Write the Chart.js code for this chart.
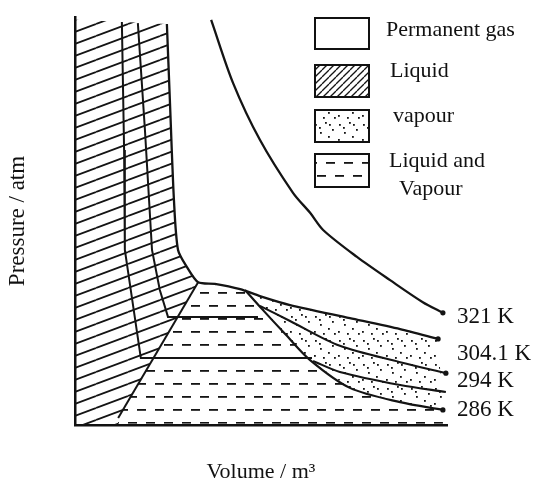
<!DOCTYPE html>
<html>
<head>
<meta charset="utf-8">
<script src="https://cdn.jsdelivr.net/npm/chart.js@4.4.1/dist/chart.umd.min.js"></script>
<style>
  html, body { margin: 0; padding: 0; background: #fff; }
</style>
</head>
<body>
<canvas id="isoChart" width="536" height="485"></canvas>
<script>
// CO2 isotherms, [volume, pressure] in arbitrary units
var iso321 = [[3.66, 99.3], [4.25, 83.8], [4.97, 69.9], [5.86, 56.9], [6.32, 52.0], [6.67, 47.8], [7.58, 41.2], [8.47, 35.5], [9.35, 30.1], [9.89, 27.5]];
var iso304 = [[2.47, 98.3], [2.55, 79.7], [2.66, 55.1], [2.77, 42.9], [3.01, 38.7], [3.31, 35.0], [3.76, 34.6], [4.44, 33.3], [4.97, 31.6], [5.78, 29.4], [7.39, 26.2], [8.74, 23.5], [9.76, 21.1]];
var critIdx = 5; // critical point inside iso304
var iso294Liq = [[1.69, 98.5], [1.88, 72.3], [2.07, 42.9], [2.28, 33.1], [2.50, 26.5], [4.92, 26.5]];
var iso294Vap = [[4.97, 29.2], [5.78, 25.5], [7.12, 19.4], [8.74, 15.4], [9.97, 12.7]];
var iso286Liq = [[1.26, 98.8], [1.32, 67.4], [1.34, 42.9], [1.77, 16.4], [6.37, 16.4]];
var iso286Vap = [[6.40, 15.7], [7.12, 13.0], [8.74, 9.8], [9.97, 8.1]];
var domeLeft = [[1.16, 1.7], [3.31, 35.0]];
var domeRight = [[4.57, 33.1], [5.03, 28.4], [5.65, 22.3], [6.32, 15.9], [7.39, 9.1], [8.74, 5.6], [9.89, 3.7]];

var isoLabels = ['321 K', '304.1 K', '294 K', '286 K'];
var legendNames = ['Permanent gas', 'Liquid', 'vapour', 'Liquid and', 'Vapour'];

function pts(arr) {
    return arr.map(function (p) { return { x: p[0], y: p[1] }; });
}

// regions of the phase diagram, built from the curves above
var liquidRegion = [[0, 99.3]].concat(iso304.slice(0, critIdx + 1), [domeLeft[0], [domeLeft[0][0], 0], [0, 0]]);
var vapourRegion = iso304.slice(critIdx).concat(domeRight.slice().reverse());
var domeRegion = [domeLeft[0], domeLeft[1], iso304[critIdx + 1], iso304[critIdx + 2]]
    .concat(domeRight, [[domeRight[domeRight.length - 1][0], 0.3], [domeLeft[0][0], 0.3]]);

function makePattern(w, h, draw) {
    var c = document.createElement('canvas');
    c.width = w;
    c.height = h;
    var g = c.getContext('2d');
    draw(g, w, h);
    return g.createPattern(c, 'repeat');
}

var ink = '#141414';

var hatch = makePattern(32, 12, function (g, w, h) {
    g.strokeStyle = ink;
    g.lineWidth = 1.8;
    for (var k = -1; k <= 1; k++) {
        g.beginPath();
        g.moveTo(0, h + k * h);
        g.lineTo(w, k * h);
        g.stroke();
    }
});

var hatchSmall = makePattern(7, 7, function (g, w, h) {
    g.strokeStyle = ink;
    g.lineWidth = 1.3;
    for (var k = -1; k <= 1; k++) {
        g.beginPath();
        g.moveTo(k * w, h);
        g.lineTo(w + k * w, 0);
        g.stroke();
    }
});

var dots = makePattern(24, 24, function (g) {
    g.fillStyle = ink;
    [[3, 4], [13, 2], [20, 9], [8, 12], [16, 16], [2, 19], [11, 21], [22, 21], [7, 7], [17, 4]].forEach(function (d) {
        g.fillRect(d[0], d[1], 1.8, 1.8);
    });
});

var dashes = makePattern(36, 26, function (g) {
    g.fillStyle = ink;
    g.fillRect(2, 6, 9, 1.8);
    g.fillRect(20, 6, 9, 1.8);
    g.fillRect(11, 19, 9, 1.8);
    g.fillRect(29, 19, 7, 1.8);
    g.fillRect(0, 19, 2, 1.8);
});

function region(data, pattern) {
    return {
        data: pts(data), fill: 'shape', backgroundColor: pattern,
        borderWidth: 0, pointRadius: 0, tension: 0, order: 2
    };
}

function curve(data, width, tension, endDot) {
    var n = data.length;
    return {
        data: pts(data), fill: false, borderColor: ink, borderWidth: width, tension: tension,
        pointRadius: data.map(function (p, i) { return endDot && i === n - 1 ? 2.6 : 0; }),
        pointBackgroundColor: ink, pointBorderWidth: 0, order: 1, clip: false
    };
}

var labelPlugin = {
    id: 'isoLabels',
    afterDraw: function (chart) {
        var ctx = chart.ctx;
        var ys = chart.scales.y;
        var area = chart.chartArea;
        var anchors = [iso321, iso304, iso294Vap, domeRight];
        var dy = [4, 15, 8, 0];
        ctx.save();
        ctx.fillStyle = '#111';
        ctx.font = '23px "Liberation Serif"';
        ctx.textBaseline = 'middle';
        anchors.forEach(function (a, i) {
            var last = a[a.length - 1];
            ctx.fillText(isoLabels[i], area.right + 10, ys.getPixelForValue(last[1]) + dy[i]);
        });

        // legend boxes
        var boxes = [
            { y: 18, h: 31, fill: '#fff' },
            { y: 65, h: 32, fill: hatchSmall },
            { y: 110, h: 32, fill: dots },
            { y: 154, h: 33, fill: dashes }
        ];
        boxes.forEach(function (b) {
            ctx.fillStyle = b.fill;
            ctx.fillRect(315, b.y, 54, b.h);
            ctx.strokeStyle = '#111';
            ctx.lineWidth = 2;
            ctx.strokeRect(315, b.y, 54, b.h);
        });
        ctx.fillStyle = '#111';
        ctx.font = '22px "Liberation Serif"';
        ctx.textBaseline = 'alphabetic';
        var tx = [386, 390, 393, 389, 399];
        var ty = [36, 77, 122, 167, 195];
        legendNames.forEach(function (t, i) {
            ctx.fillText(t, tx[i], ty[i]);
        });
        ctx.restore();
    }
};

var ctx = document.getElementById('isoChart').getContext('2d');
var isoChart = new Chart(ctx, {
    type: 'line',
    data: {
        datasets: [
            curve(iso321, 2.3, 0.3, true),
            curve(iso304, 2.3, 0.25, true),
            curve(iso294Liq, 2.0, 0, false),
            curve(iso294Vap, 2.1, 0.3, true),
            curve(iso286Liq, 2.0, 0, false),
            curve(iso286Vap, 2.1, 0.3, false),
            curve(domeLeft, 2.0, 0, false),
            curve(domeRight, 2.2, 0.3, true),
            region(liquidRegion, hatch),
            region(vapourRegion, dots),
            region(domeRegion, dashes)
        ]
    },
    options: {
        responsive: false,
        devicePixelRatio: 1,
        animation: false,
        layout: { padding: { left: 0, right: 89, top: 17, bottom: 0 } },
        plugins: {
            legend: { display: false },
            tooltip: { enabled: false }
        },
        scales: {
            x: {
                type: 'linear', min: 0, max: 10,
                grid: { display: false, drawTicks: false },
                ticks: { display: false },
                border: { color: '#111', width: 2.5 },
                title: {
                    display: true, text: 'Volume / m³', color: '#111',
                    font: { family: 'Liberation Serif', size: 22 },
                    padding: { top: 33.6, bottom: 0 }
                }
            },
            y: {
                type: 'linear', min: 0, max: 100,
                grid: { display: false, drawTicks: false },
                ticks: { display: false },
                border: { color: '#111', width: 2.5 },
                title: {
                    display: true, text: 'Pressure / atm', color: '#111',
                    font: { family: 'Liberation Serif', size: 23 },
                    padding: { top: 4, bottom: 43.4 }
                }
            }
        }
    },
    plugins: [labelPlugin]
});
</script>
</body>
</html>
